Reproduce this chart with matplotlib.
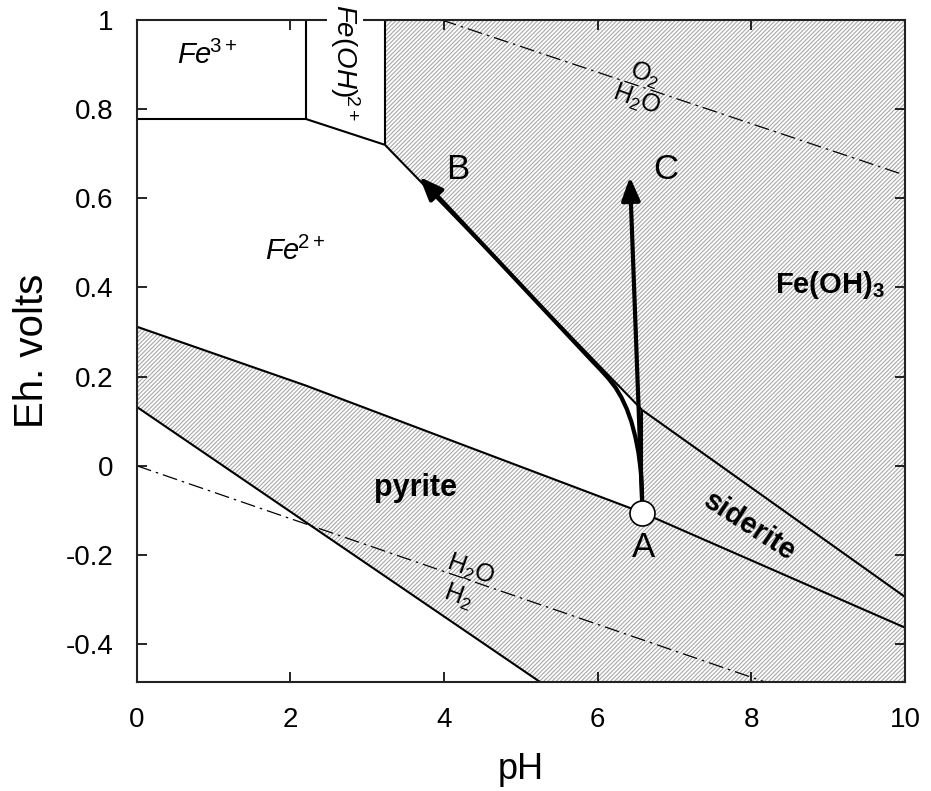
import matplotlib
matplotlib.use("Agg")
import matplotlib.pyplot as plt
import numpy as np

plt.rcParams['font.family'] = ['Liberation Sans', 'DejaVu Sans']
plt.rcParams['mathtext.fontset'] = 'custom'
plt.rcParams['mathtext.rm'] = 'Liberation Sans'
plt.rcParams['mathtext.it'] = 'Liberation Sans:italic'
plt.rcParams['mathtext.bf'] = 'Liberation Sans:bold'
plt.rcParams['hatch.linewidth'] = 0.8

# stability field boundaries (pH, Eh volts)
fe3_fe2_ph, fe3_fe2_eh = [0, 2.2], [0.778, 0.778]
fe3_feoh_ph, fe3_feoh_eh = [2.2, 2.2], [0.778, 1.0]
feoh_fe2_ph, feoh_fe2_eh = [2.2, 3.23], [0.778, 0.72]
feoh_feoh3_ph, feoh_feoh3_eh = [3.23, 3.23], [0.72, 1.0]
fe2_feoh3_ph, fe2_feoh3_eh = [3.23, 6.58], [0.72, 0.125]
sid_feoh3_ph, sid_feoh3_eh = [6.58, 10], [0.125, -0.294]
fe2_sid_ph, fe2_sid_eh = [6.58, 6.58], [0.125, -0.105]
pyr_top_ph, pyr_top_eh = [0, 2.2, 6.58, 10], [0.312, 0.18, -0.105, -0.363]
pyr_low_ph, pyr_low_eh = [0, 5.25], [0.132, -0.485]

# water stability limits
o2_ph, o2_eh = [3.97, 10], [1.0, 0.652]
h2_ph, h2_eh = [0, 8.18], [0.0, -0.485]

# reaction paths from point A
a_ph, a_eh = 6.58, -0.105
b_ph = [6.58, 6.575, 6.56, 6.53, 6.49, 6.44, 6.38, 6.31, 6.23, 6.14, 6.04, 5.94, 3.68]
b_eh = [-0.09, -0.05, -0.01, 0.03, 0.065, 0.098, 0.127, 0.153, 0.176, 0.196, 0.215, 0.233, 0.648]
c_ph = [6.58, 6.42]
c_eh = [-0.09, 0.648]

ymin, ymax = -0.485, 1.0

fig = plt.figure(figsize=(9.31, 7.91), dpi=100)
ax = fig.add_axes([0.147, 0.1378, 0.825, 0.8369])
ax.set_xlim(0, 10)
ax.set_ylim(ymin, ymax)

hatch_kw = dict(facecolor='white', edgecolor='#a8a8a8', linewidth=0, hatch='////////', zorder=1)

# Fe(OH)3 field
px = fe2_feoh3_ph + sid_feoh3_ph[1:] + [10, 3.23]
py = fe2_feoh3_eh + sid_feoh3_eh[1:] + [ymax, ymax]
ax.fill(px, py, **hatch_kw)
# siderite field
px = fe2_sid_ph + pyr_top_ph[-1:] + sid_feoh3_ph[::-1][:1]
py = fe2_sid_eh + pyr_top_eh[-1:] + sid_feoh3_eh[::-1][:1]
ax.fill(px, py, **hatch_kw)
# pyrite field
px = pyr_top_ph + [10, pyr_low_ph[1]] + pyr_low_ph[::-1][1:]
py = pyr_top_eh + [ymin, ymin] + pyr_low_eh[::-1][1:]
ax.fill(px, py, **hatch_kw)

lk = dict(color='black', lw=1.5, zorder=2, solid_capstyle='butt')
for xs, ys in [(fe3_fe2_ph, fe3_fe2_eh), (fe3_feoh_ph, fe3_feoh_eh),
               (feoh_fe2_ph, feoh_fe2_eh), (feoh_feoh3_ph, feoh_feoh3_eh),
               (fe2_feoh3_ph, fe2_feoh3_eh), (sid_feoh3_ph, sid_feoh3_eh),
               (fe2_sid_ph, fe2_sid_eh), (pyr_top_ph, pyr_top_eh),
               (pyr_low_ph, pyr_low_eh)]:
    ax.plot(xs, ys, **lk)

ax.plot(o2_ph, o2_eh, color='black', lw=0.9, ls=(0, (12, 4, 2, 4)), zorder=2)
ax.plot(h2_ph, h2_eh, color='black', lw=0.9, ls=(0, (12, 4, 2, 4)), zorder=2)

# arrows
arr = dict(arrowstyle='-|>,head_length=1.0,head_width=0.4', color='black',
           lw=3, shrinkA=0, shrinkB=0, mutation_scale=14)
ax.plot(b_ph[:-1], b_eh[:-1], color='black', lw=3, zorder=3,
        solid_capstyle='butt', solid_joinstyle='round')
ax.annotate('', xy=(b_ph[-1], b_eh[-1]), xytext=(b_ph[-2], b_eh[-2]),
            arrowprops=arr, zorder=3)
ax.annotate('', xy=(c_ph[1], c_eh[1]), xytext=(c_ph[0], c_eh[0]),
            arrowprops=arr, zorder=3)
ax.plot([a_ph], [a_eh], 'o', ms=18, mfc='white', mec='black', mew=1.2, zorder=4)

# labels
ax.text(0.92, 0.92, r'$\mathit{Fe}^{\!\mathrm{3+}}$', fontsize=21, ha='center', va='center')
ax.text(2.06, 0.48, r'$\mathit{Fe}^{\!\mathrm{2+}}$', fontsize=21, ha='center', va='center')
ax.text(2.71, 0.905, r'$\mathit{Fe(OH)}^{\!\mathrm{2+}}$', fontsize=20, rotation=-90,
        ha='center', va='center', clip_on=False, zorder=6,
        bbox=dict(facecolor='white', edgecolor='none', pad=1))
ax.text(9.02, 0.406, r'$\mathbf{Fe(OH)_3}$', fontsize=21, ha='center', va='center')
ax.text(3.63, -0.05, 'pyrite', fontsize=22, fontweight='bold', ha='center', va='center')
ax.text(7.98, -0.137, 'siderite', fontsize=21, fontweight='bold', rotation=-33,
        ha='center', va='center')
ax.text(4.18, 0.664, 'B', fontsize=25, ha='center', va='center')
ax.text(6.88, 0.664, 'C', fontsize=25, ha='center', va='center')
ax.text(6.59, -0.184, 'A', fontsize=25, ha='center', va='center')
ax.text(6.61, 0.877, r'O$_2$', fontsize=18, rotation=-20, ha='center', va='center')
ax.text(6.51, 0.82, r'H$_2$O', fontsize=18, rotation=-20, ha='center', va='center')
ax.text(4.34, -0.233, r'H$_2$O', fontsize=18, rotation=-20, ha='center', va='center')
ax.text(4.19, -0.294, r'H$_2$', fontsize=18, rotation=-20, ha='center', va='center')

ax.set_xticks(np.arange(0, 11, 2))
ax.set_xticklabels(['0', '2', '4', '6', '8', '10'])
yt = [-0.4, -0.2, 0, 0.2, 0.4, 0.6, 0.8, 1.0]
ax.set_yticks(yt)
ax.set_yticklabels(['-0.4', '-0.2', '0', '0.2', '0.4', '0.6', '0.8', '1'])
ax.tick_params(direction='in', length=7, width=1.2, top=True, right=True)
ax.tick_params(axis='x', labelsize=20, pad=18)
ax.tick_params(axis='y', labelsize=20, pad=17)
for s in ax.spines.values():
    s.set_linewidth(1.5)
    s.set_color('#222222')
    s.set_zorder(5)

ax.set_xlabel('pH', fontsize=26, labelpad=14)
ax.set_ylabel('Eh. volts', fontsize=29, labelpad=10)

fig.savefig('out.png', dpi=100)
